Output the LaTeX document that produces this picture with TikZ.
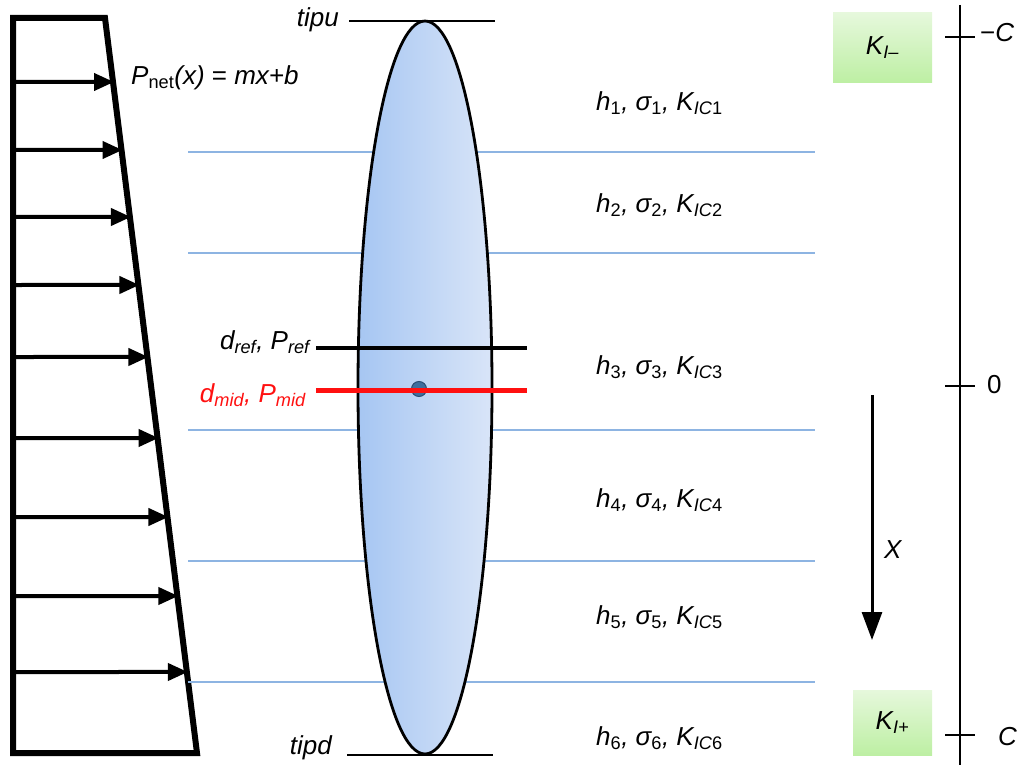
\documentclass[tikz,border=0pt]{standalone}
\usepackage{fontspec}
\setmainfont{Liberation Sans}
\usetikzlibrary{arrows.meta,shapes.geometric,calc}
\definecolor{layerblue}{HTML}{8DB4E2}
\definecolor{crackL}{HTML}{A6C6F2}
\definecolor{crackR}{HTML}{D9E5F8}
\definecolor{dotfill}{HTML}{3F6E9E}
\definecolor{dotdraw}{HTML}{2B4F75}
\definecolor{boxtop}{HTML}{E6F8DC}
\definecolor{boxbot}{HTML}{BDEFA3}
\definecolor{midred}{HTML}{FF1010}
\newcommand\sbs[1]{\textsubscript{#1}}
\tikzset{
  lbl/.style={font=\fontsize{26}{30}\selectfont\itshape, inner sep=1pt},
  parrow/.style={line width=4pt, -{Triangle[length=20pt,width=17pt]}, shorten >=-1pt},
  layerline/.style={layerblue, line width=1.3pt},
  tipline/.style={line width=1.3pt},
  kbox/.style={top color=boxtop, bottom color=boxbot, draw=none, inner sep=0pt},
  tick/.style={line width=2.2pt}
}
\begin{document}
\begin{tikzpicture}[x=1pt,y=-1pt]
\useasboundingbox (0,0) rectangle (1018,765);
% pressure trapezoid
\coordinate (tl) at (13,18);
\coordinate (tr) at (105,18);
\coordinate (br) at (197,753);
\coordinate (bl) at (13,753);
\draw[line width=6pt, line join=miter] (tl) -- (tr) -- (br) -- (bl) -- cycle;
\foreach \y [count=\i] in {82,150,217,285,357,438,517,596,672} {
  \coordinate (s\i) at (13,\y);
  \coordinate (e\i) at ($(tr)!{(\y-18)/735}!(br)$);
  \draw[parrow] (s\i) -- (e\i);
}
\node[lbl, anchor=west] (pnet) at (130,78) {P\sbs{\upshape net}(x) {\upshape =} mx+b};
% layer lines
\foreach \y [count=\i] in {152,253,430,561,682} {
  \coordinate (la\i) at (188,\y);
  \coordinate (lb\i) at (815,\y);
  \draw[layerline] (la\i) -- (lb\i);
}
% crack ellipse
\node[ellipse, draw, line width=2.8pt, minimum width=134pt, minimum height=733pt, inner sep=0pt,
      left color=crackL, right color=crackR] (crack) at (425,387.5) {};
% tips
\coordinate (tu1) at (349,21); \coordinate (tu2) at (495,21);
\draw[tipline] (tu1) -- (tu2);
\node[lbl, anchor=east] (tipu) at (340,20) {tipu};
\coordinate (td1) at (347,755); \coordinate (td2) at (493,755);
\draw[tipline] (td1) -- (td2);
\node[lbl, anchor=east] (tipd) at (333,748) {tipd};
% reference and mid lines
\coordinate (r1) at (316,348); \coordinate (r2) at (527,348);
\draw[line width=3.5pt] (r1) -- (r2);
\node[lbl, anchor=east] (ref) at (311,342) {d\sbs{ref}, P\sbs{ref}};
\node[circle, fill=dotfill, draw=dotdraw, line width=1pt, minimum size=15pt, inner sep=0pt] (mid) at (419,389) {};
\coordinate (m1) at (316,390); \coordinate (m2) at (527,390);
\draw[midred, line width=5pt] (m1) -- (m2);
\node[lbl, anchor=east, text=midred] (midl) at (307,395) {d\sbs{mid}, P\sbs{mid}};
% layer labels
\foreach \y/\n in {103/1,205/2,367/3,500/4,617/5,738/6} {
  \node[lbl, anchor=west] (h\n) at (595,\y) {h\sbs{\upshape\n}, σ\sbs{\upshape\n}, K\sbs{IC\upshape\n}};
}
% axis
\coordinate (ax1) at (960,5); \coordinate (ax2) at (960,765);
\draw[line width=2.8pt] (ax1) -- (ax2);
\foreach \y/\n in {37/a,386/b,735/c} {
  \coordinate (t\n1) at (945,\y); \coordinate (t\n2) at (975,\y);
  \draw[tick] (t\n1) -- (t\n2);
}
\node[lbl, anchor=west, font=\fontsize{26}{30}\selectfont] (mC) at (979,33) {−\textit{C}};
\node[lbl, anchor=west, font=\fontsize{26}{30}\selectfont] (zero) at (986,385) {0};
\node[lbl, anchor=west] (pC) at (997,737) {C};
% K boxes
\node[kbox, minimum width=99pt, minimum height=70pt] (km) at (882.5,48) {};
\node[lbl] (kmt) at (km) {K\sbs{I–}};
\node[kbox, minimum width=79pt, minimum height=65pt] (kp) at (892.5,722.5) {};
\node[lbl] (kpt) at (kp) {K\sbs{I+}};
% X arrow
\coordinate (x1) at (872,395); \coordinate (x2) at (872,640);
\draw[line width=3pt, -{Triangle[length=28pt,width=20pt]}] (x1) -- (x2);
\node[lbl, anchor=west] (xl) at (883,550) {X};
\end{tikzpicture}
\end{document}
